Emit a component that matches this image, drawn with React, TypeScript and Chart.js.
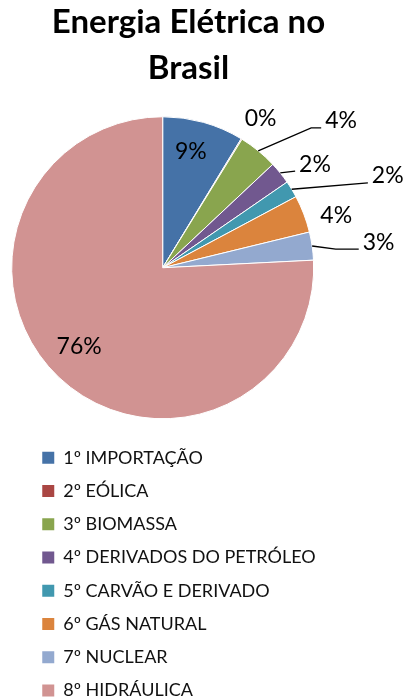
import React, { useEffect, useRef } from 'react';
import { Chart, registerables } from 'chart.js';

Chart.register(...registerables);

const TITLE = ['Energia Elétrica no', 'Brasil'];
const CATEGORIES = [
  '1º IMPORTAÇÃO',
  '2º EÓLICA',
  '3º BIOMASSA',
  '4º DERIVADOS DO PETRÓLEO',
  '5º CARVÃO E DERIVADO',
  '6º GÁS NATURAL',
  '7º NUCLEAR',
  '8º HIDRÁULICA',
];
const VALUES = [8.7, 0.1, 4.2, 2.4, 1.8, 4.0, 3.0, 75.8];
const COLORS = ['#4572A7', '#AA4643', '#89A54E', '#71588F', '#4198AF', '#DB843D', '#93A9CF', '#D19392'];

// data-label placement: distance (x outer radius), angle shift from slice middle (deg), leader elbow (null = none)
const LABEL_R = [0.79, 1.18, 1.53, 1.22, 1.61, 1.2, 1.44, 0.76];
const LABEL_DA = [-2, 1.8, 11.3, 4.65, 9.1, 4.1, 1.5, 3.2];
const LEADER: (number | null)[] = [null, null, 10, 0, 0, null, 23, null];

// trailing non-breaking spaces keep one legend entry per row
const LEGEND_PAD = '\u00A0'.repeat(20);

const pieLabels = {
  id: 'pieLabels',
  afterDatasetsDraw(chart: any) {
    const meta = chart.getDatasetMeta(0);
    const ds = chart.data.datasets[0].data as number[];
    const total = ds.reduce((a, b) => a + b, 0);
    const ctx = chart.ctx;
    ctx.save();
    ctx.font = '23px Lato';
    ctx.fillStyle = '#000';
    ctx.textAlign = 'center';
    ctx.textBaseline = 'middle';
    ctx.strokeStyle = '#000';
    ctx.lineWidth = 1.3;
    meta.data.forEach((arc: any, i: number) => {
      const p = arc.getProps(['x', 'y', 'startAngle', 'endAngle', 'outerRadius'], true);
      const mid = (p.startAngle + p.endAngle) / 2;
      const a = mid + (LABEL_DA[i] * Math.PI) / 180;
      const r = p.outerRadius * LABEL_R[i];
      const tx = p.x + Math.cos(a) * r;
      const ty = p.y + Math.sin(a) * r;
      const text = Math.round((ds[i] / total) * 100) + '%';
      ctx.fillText(text, tx, ty);
      const h = LEADER[i];
      if (h !== null) {
        const w = ctx.measureText(text).width;
        const ex = tx - w / 2 - 4;
        const ey = ty + 7;
        ctx.beginPath();
        ctx.moveTo(p.x + Math.cos(mid) * p.outerRadius, p.y + Math.sin(mid) * p.outerRadius);
        ctx.lineTo(ex - h, ey);
        ctx.lineTo(ex, ey);
        ctx.stroke();
      }
    });
    ctx.restore();
  },
};

export default function App() {
  const ref = useRef<HTMLCanvasElement>(null);
  useEffect(() => {
    document.body.style.margin = '0';
    if (!ref.current) return;
    const chart = new Chart(ref.current, {
      type: 'pie',
      data: {
        labels: CATEGORIES,
        datasets: [
          {
            data: VALUES,
            backgroundColor: COLORS,
            borderColor: '#ffffff',
            borderWidth: 1,
            radius: 151,
            hoverOffset: 0,
          } as any,
        ],
      },
      options: {
        animation: false,
        responsive: true,
        maintainAspectRatio: false,
        layout: { padding: { left: 19, right: 55, top: 0, bottom: 0 } },
        plugins: {
          title: {
            display: true,
            text: TITLE,
            color: '#000',
            font: { family: 'Lato', size: 33, weight: 'bold', lineHeight: '46px' } as any,
            padding: { top: -9, bottom: 11 } as any,
          },
          subtitle: {
            display: true,
            position: 'right',
            text: '',
            font: { size: 10, lineHeight: 1 },
            padding: { top: 41.6, bottom: 0 } as any,
          },
          legend: {
            position: 'bottom',
            align: 'start',
            fullSize: true,
            maxHeight: 264.5,
            labels: {
              boxWidth: 12,
              boxHeight: 12,
              padding: 15.25,
              color: '#111',
              font: { family: 'Lato', size: 18 },
              generateLabels(c: any) {
                const items = Chart.overrides.pie.plugins.legend.labels.generateLabels(c);
                return items.map((it: any) => ({ ...it, text: it.text + LEGEND_PAD, lineWidth: 0 }));
              },
            },
          },
          tooltip: { enabled: false },
        },
      } as any,
      plugins: [pieLabels],
    });
    return () => chart.destroy();
  }, []);
  return (
    <div style={{ width: 397, height: 690, padding: '8px 0 0 8px' }}>
      <div style={{ width: 397, height: 690, position: 'relative' }}>
        <canvas ref={ref} />
      </div>
    </div>
  );
}
